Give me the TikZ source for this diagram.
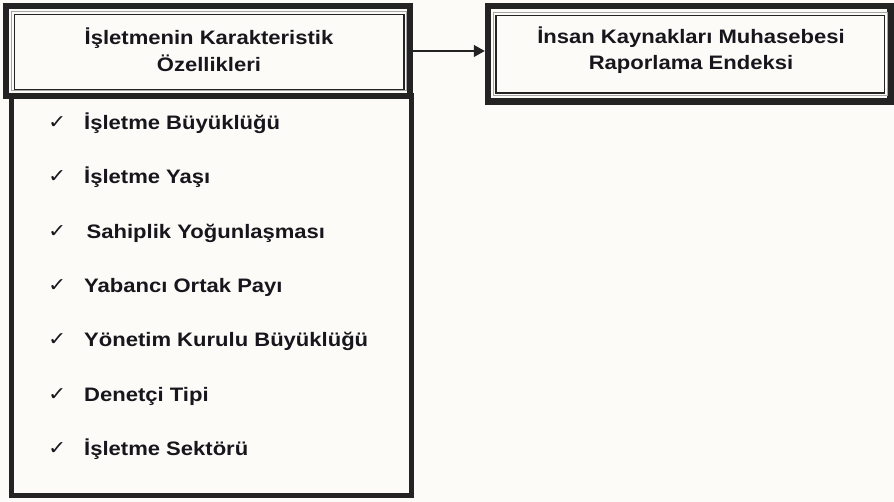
\documentclass[tikz,border=0pt]{standalone}
\usepackage{fontspec}
\setmainfont[FakeStretch=1.13]{Liberation Sans}
\newfontfamily\chkfont[FakeStretch=1.15]{DejaVu Sans}
\usetikzlibrary{arrows.meta}
\definecolor{bg}{RGB}{253,251,248}
\definecolor{ink}{RGB}{22,22,28}
\definecolor{lineink}{RGB}{35,35,35}
\tikzset{
  thickframe/.style={draw=lineink, fill=bg, rectangle, inner sep=0pt},
  innerdark/.style={draw=lineink, line width=1.4pt},
  innergray/.style={draw=gray!70, line width=1pt},
  lbl/.style={inner sep=0pt, text=ink, font=\fontsize{19.5}{26.5}\selectfont\bfseries, anchor=base},
  item/.style={inner sep=0pt, text=ink, font=\fontsize{19.5}{22}\selectfont\bfseries, anchor=base west},
  chk/.style={inner sep=0pt, text=ink, font=\chkfont\fontsize{19}{21}\selectfont, anchor=base west},
  conn/.style={draw=lineink, line width=1.3pt, -{Triangle[length=11pt,width=12pt]}}
}
\begin{document}
\begin{tikzpicture}[x=1pt,y=-1pt]
\fill[bg] (0,0) rectangle (894,502);
\useasboundingbox (0,0) rectangle (894,502);
% list box
\node[thickframe, line width=5pt, minimum width=400.5pt, minimum height=399.5pt] (lst) at (211.25,295.75) {};
% header box
\node[thickframe, line width=6pt, minimum width=404pt, minimum height=90pt] (hdr) at (208,51) {};
\draw[innergray] (11.5,11.5) rectangle (406.5,91);
\draw[innerdark] (14.5,14.5) rectangle (404,89.5);
\node[lbl] (h1) at (209,45) {İşletmenin Karakteristik};
\node[lbl] (h2) at (209,71.7) {Özellikleri};
% right box
\node[thickframe, line width=6.5pt, minimum width=402.5pt, minimum height=95.5pt] (idx) at (689.25,53.75) {};
\draw[innergray] (493,12.5) rectangle (887.5,96);
\draw[innerdark] (496,15.5) rectangle (884.5,93);
\node[lbl] (r1) at (691,44) {İnsan Kaynakları Muhasebesi};
\node[lbl] (r2) at (691,70) {Raporlama Endeksi};
% connector
\draw[conn] (hdr.east) -- (hdr.east -| idx.west);
% items
\foreach \t/\dx [count=\i from 0] in {İşletme Büyüklüğü/0, İşletme Yaşı/0, Sahiplik Yoğunlaşması/2.5, Yabancı Ortak Payı/0, Yönetim Kurulu Büyüklüğü/0, Denetçi Tipi/0, İşletme Sektörü/0}{
  \pgfmathsetmacro{\yb}{129.5+54.36*\i}
  \node[chk] (c\i) at (48,\yb-1) {✓};
  \node[item] (t\i) at (84+\dx,\yb) {\t};
}
\end{tikzpicture}
\end{document}
